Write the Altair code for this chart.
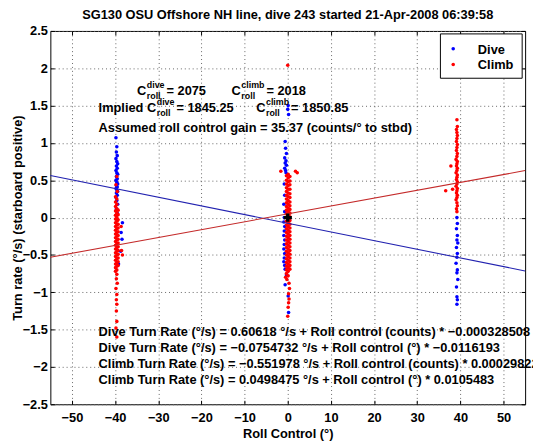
import altair as alt
import pandas as pd

FONT = "Liberation Sans"

TITLE = "SG130 OSU Offshore NH line, dive 243 started 21-Apr-2008 06:39:58"
X_TITLE = "Roll Control (°)"
Y_TITLE = "Turn rate (°/s) (starboard positive)"
X_DOMAIN = [-55, 55]
Y_DOMAIN = [-2.5, 2.5]
X_TICKS = [-50, -40, -30, -20, -10, 0, 10, 20, 30, 40, 50]
Y_TICKS = [-2.5, -2, -1.5, -1, -0.5, 0, 0.5, 1, 1.5, 2, 2.5]
PHASES = ["Dive", "Climb"]

# ---- dive observations (roll control deg, turn rate deg/s) ----
DIVE_ROLL = [
    -39.8, -39.6, -39.7, -39.5, -39.8, -39.6, -39.4, -39.7, -39.5, -39.8,
    -39.6, -39.4, -39.7, -39.5, -39.8, -39.6, -39.4, -39.7, -39.5, -39.8,
    -39.6, -39.4, -39.7, -39.5, -39.8, -39.6, -39.4, -39.7, -39.5,
    -38.3, -38.6, -38.4, -38.7, -39.2,
    0.1, 0.0, 0.2, -0.6, -0.5, -0.3, -0.7, -0.4, -0.6, -0.3, -0.7, -0.5, -0.4,
    -0.8, -0.7, -0.9, -0.7, -0.8, -0.9, -0.7, -0.8, -0.9, -0.7, -0.8, -0.9,
    -0.7, -0.8, -0.9, -0.7, -0.6, -0.3, -0.6, 0.1, 0.2,
    39.2, 39.3, 39.1, 39.3, 39.2, 39.4, 39.1, 39.3, 39.2, 39.0, 39.3, 39.2,
    39.4, 39.1, 39.2, 39.3, 39.2,
]
DIVE_RATE = [
    1.07, 0.95, 0.88, 0.83, 0.79, 0.75, 0.72, 0.69, 0.66, 0.63,
    0.60, 0.58, 0.55, 0.52, 0.50, 0.47, 0.45, 0.43, 0.41, 0.39,
    0.37, 0.35, 0.33, 0.30, 0.27, 0.23, 0.18, 0.12, 0.06,
    -0.07, -0.20, -0.29, -0.45, -0.62,
    1.50, 1.45, 1.38, 1.02, 0.93, 0.86, 0.80, 0.76, 0.73, 0.70, 0.66, 0.63, 0.60,
    0.45, 0.30, 0.18, 0.08, 0.00, -0.06, -0.12, -0.18, -0.24, -0.30, -0.36, -0.42,
    -0.48, -0.54, -0.59, -0.64, -0.69, -0.77, -0.90, -1.05, -1.27,
    0.00, -0.08, -0.15, -0.24, -0.30, -0.34, -0.40, -0.48, -0.53, -0.61, -0.70, -0.74,
    -0.83, -0.93, -1.06, -1.10, -1.16,
]

# ---- climb observations ----
CLIMB_ROLL = [
    # -40 cluster
    -39.9, -39.9, -39.9, -39.9, -39.9, -39.9, -39.9, -39.9, -39.9, -39.9,
    -39.9, -39.9, -39.9, -39.9, -39.9, -39.9, -39.9, -39.9, -39.9, -39.9,
    -39.6, -39.6, -39.6, -39.6, -39.6, -39.6, -39.6, -39.6, -39.6, -39.6,
    -39.6, -39.6, -39.6, -39.6, -39.6, -39.6, -39.6, -39.6, -39.6, -39.6,
    -39.3, -39.3, -39.3, -39.3, -39.3, -39.3, -39.3, -39.3, -39.3, -39.3,
    -39.3, -39.3, -39.3, -39.3, -39.3,
    -39.6, -39.8, -39.5, -39.7, -39.5, -39.8, -39.6, -39.7, -39.6, -39.7,
    -39.6, -39.8, -39.6, -38.5, -38.3, -38.6,
    # 0 cluster
    -0.3, -0.3, -0.3, -0.3, -0.3, -0.3, -0.3, -0.3, -0.3, -0.3, -0.3, -0.3,
    -0.3, -0.3, -0.3, -0.3, -0.3, -0.3, -0.3, -0.3, -0.3, -0.3, -0.3, -0.3,
    -0.3, -0.3, -0.3,
    0.1, 0.1, 0.1, 0.1, 0.1, 0.1, 0.1, 0.1, 0.1, 0.1, 0.1, 0.1, 0.1, 0.1,
    0.1, 0.1, 0.1, 0.1, 0.1, 0.1, 0.1, 0.1, 0.1, 0.1, 0.1, 0.1, 0.1, 0.1,
    0.5, 0.5, 0.5, 0.5, 0.5, 0.5, 0.5, 0.5, 0.5, 0.5, 0.5, 0.5, 0.5, 0.5,
    0.5, 0.5, 0.5, 0.5, 0.5, 0.5, 0.5, 0.5, 0.5, 0.5, 0.5,
    0.0, -1.6, 1.8, 2.2, -0.2, 0.3, -0.5, 0.4, 0.2, 0.3, 0.2, 0.1, 0.0,
    # +40 cluster
    39.2, 39.3, 39.1, 39.2, 39.3, 39.2, 39.1, 39.3, 39.2, 39.1, 39.3, 39.2,
    39.0, 39.3, 39.2, 39.1, 39.3, 39.2, 39.0, 39.3, 39.2, 39.1, 39.3, 39.2,
    39.0, 39.3, 39.2, 39.1, 39.3, 39.2, 39.0, 39.2, 39.3, 39.1, 39.2,
    36.6, 38.2, 37.8,
]
CLIMB_RATE = [
    0.28, 0.21, 0.15, 0.09, 0.03, -0.02, -0.07, -0.12, -0.17, -0.22,
    -0.27, -0.32, -0.37, -0.42, -0.47, -0.52, -0.57, -0.62, -0.67, -0.72,
    0.25, 0.18, 0.12, 0.06, 0.00, -0.05, -0.10, -0.15, -0.20, -0.25,
    -0.30, -0.35, -0.40, -0.45, -0.50, -0.55, -0.60, -0.65, -0.70, -0.76,
    0.10, 0.04, -0.03, -0.09, -0.14, -0.19, -0.24, -0.29, -0.34, -0.39,
    -0.44, -0.49, -0.54, -0.59, -0.64,
    0.55, 0.44, 0.35, -0.82, -0.88, -0.95, -1.03, -1.10, -1.16, -1.25,
    -1.39, -1.48, -1.60, -0.44, -0.50, -0.12,
    0.56, 0.50, 0.45, 0.40, 0.35, 0.30, 0.25, 0.20, 0.15, 0.10, 0.05, 0.00,
    -0.05, -0.10, -0.15, -0.20, -0.25, -0.30, -0.35, -0.40, -0.45, -0.50,
    -0.55, -0.60, -0.65, -0.70, -0.75,
    0.58, 0.53, 0.48, 0.43, 0.38, 0.33, 0.28, 0.23, 0.18, 0.13, 0.08, 0.03,
    -0.02, -0.07, -0.12, -0.17, -0.22, -0.27, -0.32, -0.37, -0.42, -0.47,
    -0.52, -0.57, -0.62, -0.67, -0.72, -0.78,
    0.55, 0.49, 0.44, 0.38, 0.32, 0.27, 0.21, 0.16, 0.11, 0.06, 0.01, -0.04,
    -0.09, -0.14, -0.19, -0.24, -0.29, -0.34, -0.39, -0.44, -0.49, -0.54,
    -0.59, -0.64, -0.69,
    2.04, 0.62, 0.62, 0.60, -0.83, -0.88, -0.80, -0.95, -1.02, -1.09, -1.14,
    -1.20, -1.32,
    1.31, 1.22, 1.18, 1.14, 1.10, 1.06, 1.02, 0.98, 0.94, 0.90, 0.86, 0.82,
    0.78, 0.75, 0.72, 0.69, 0.66, 0.63, 0.60, 0.57, 0.54, 0.51, 0.48, 0.45,
    0.42, 0.39, 0.36, 0.33, 0.30, 0.27, 0.24, 0.20, 0.16, 0.12, 0.08,
    0.36, 0.38, 0.69,
]

# ---- fitted lines (intercept deg/s, slope per deg) from the annotations ----
DIVE_FIT = (-0.0754732, -0.0116193)
CLIMB_FIT = (0.0498475, 0.0105483)

# reference marker at the origin
ORIGIN_ROLL = [0]
ORIGIN_RATE = [0]

TOP_NOTES = [
    ("C", "dive", " = 2075"),
    ("C", "climb", " = 2018"),
]
IMPLIED_NOTES = [
    ("Implied C", "dive", " = 1845.25"),
    ("C", "climb", " = 1850.85"),
]
GAIN_NOTE = "Assumed roll control gain = 35.37 (counts/° to stbd)"
FIT_NOTES = [
    "Dive Turn Rate (°/s) = 0.60618 °/s + Roll control (counts) * −0.000328508",
    "Dive Turn Rate (°/s) = −0.0754732 °/s + Roll control (°) * −0.0116193",
    "Climb Turn Rate (°/s) = −0.551978 °/s + Roll control (counts) * 0.000298227",
    "Climb Turn Rate (°/s) = 0.0498475 °/s + Roll control (°) * 0.0105483",
]

# ---------------- layout ----------------
W, H = 482, 379
PAD = {"left": 43, "top": 20, "right": 8, "bottom": 35}

BLUE_PT, RED_PT = "#0000ff", "#ff0000"
BLUE_LN, RED_LN = "#2222b0", "#c42a2a"

pts = pd.concat([
    pd.DataFrame({"roll": DIVE_ROLL, "rate": DIVE_RATE, "phase": "Dive"}),
    pd.DataFrame({"roll": CLIMB_ROLL, "rate": CLIMB_RATE, "phase": "Climb"}),
], ignore_index=True)


def fit_df(fit):
    a, b = fit
    return pd.DataFrame({"roll": X_DOMAIN, "rate": [a + b * x for x in X_DOMAIN]})


xs = alt.Scale(domain=X_DOMAIN, nice=False, zero=False)
ys = alt.Scale(domain=Y_DOMAIN, nice=False, zero=False)

points = alt.Chart(pts).mark_circle(size=13, opacity=1).encode(
    x=alt.X("roll:Q", scale=xs, title=X_TITLE,
            axis=alt.Axis(values=X_TICKS, format="d", grid=True, ticks=False,
                          domain=False, labelPadding=8, titlePadding=3)),
    y=alt.Y("rate:Q", scale=ys, title=Y_TITLE,
            axis=alt.Axis(values=Y_TICKS, format="~g", grid=True, ticks=False,
                          domain=False, labelPadding=3, titlePadding=-2)),
    color=alt.Color("phase:N", scale=alt.Scale(domain=PHASES, range=[BLUE_PT, RED_PT]),
                    legend=None),
)

tick_x_top = alt.Axis(orient="bottom", offset=-H, values=X_TICKS, labels=False,
                      grid=False, domain=False, tickSize=4, tickColor="black")
tick_y_right = alt.Axis(orient="left", offset=-W, values=Y_TICKS, labels=False,
                        grid=False, domain=False, tickSize=4, tickColor="black")
tick_x_bottom = alt.Axis(orient="top", offset=-H, values=X_TICKS, labels=False,
                         grid=False, domain=False, tickSize=4, tickColor="black")
tick_y_left = alt.Axis(orient="right", offset=-W, values=Y_TICKS, labels=False,
                       grid=False, domain=False, tickSize=4, tickColor="black")

dive_line = alt.Chart(fit_df(DIVE_FIT)).mark_line(color=BLUE_LN, strokeWidth=1.1).encode(
    x=alt.X("roll:Q", scale=xs, title=None, axis=tick_x_top),
    y=alt.Y("rate:Q", scale=ys, title=None, axis=tick_y_right),
)
climb_line = alt.Chart(fit_df(CLIMB_FIT)).mark_line(color=RED_LN, strokeWidth=1.1).encode(
    x=alt.X("roll:Q", scale=xs, title=None, axis=tick_x_bottom),
    y=alt.Y("rate:Q", scale=ys, title=None, axis=tick_y_left),
)

origin = alt.Chart(pd.DataFrame({"roll": ORIGIN_ROLL, "rate": ORIGIN_RATE})).mark_point(
    shape="cross", size=70, filled=True, color="black", opacity=1
).encode(
    x=alt.X("roll:Q", scale=xs, axis=None),
    y=alt.Y("rate:Q", scale=ys, axis=None),
)

ONE = pd.DataFrame({"k": [0]})


def txt(s, x, y, size=13, baseline="alphabetic"):
    return alt.Chart(ONE).mark_text(
        text=s, align="left", baseline=baseline, font=FONT, fontSize=size,
        fontWeight="bold", color="black"
    ).encode(x=alt.value(x), y=alt.value(y))


def cw(s, size):
    # rough width of bold sans text for chaining pieces
    widths = {" ": 0.278, "=": 0.584, ".": 0.278, "C": 0.722, "I": 0.278, "m": 0.889,
              "p": 0.611, "l": 0.278, "i": 0.278, "e": 0.556, "d": 0.611, "v": 0.556,
              "c": 0.556, "b": 0.611}
    return sum(widths.get(ch, 0.556) for ch in s) * size


texts = []


def note_row(items, starts, base):
    for (main, sup, rest), x0 in zip(items, starts):
        texts.append(txt(main, x0, base))
        xs_ = x0 + cw(main, 13) + 0.5
        texts.append(txt(sup, xs_, base - 7, 9))
        texts.append(txt("roll", xs_, base + 4, 9))
        texts.append(txt(rest, xs_ + max(cw(sup, 9), cw("roll", 9)) + 2, base))


note_row(TOP_NOTES, [88, 184], 65)
note_row(IMPLIED_NOTES, [49, 209], 82)
texts.append(txt(GAIN_NOTE, 49, 103))
for i, line in enumerate(FIT_NOTES):
    texts.append(txt(line, 49, 310 + 16 * i))

# legend box (top-right, inside the frame)
LEG_BOX = (396, 3, 479, 48)
legend_box = alt.Chart(ONE).mark_rect(fill="white", stroke="black", strokeWidth=1).encode(
    x=alt.value(LEG_BOX[0]), x2=alt.value(LEG_BOX[2]),
    y=alt.value(LEG_BOX[1]), y2=alt.value(LEG_BOX[3]),
)
legend_items = []
for i, (name, col) in enumerate(zip(PHASES, [BLUE_PT, RED_PT])):
    yy = 18 + 16 * i
    legend_items.append(
        alt.Chart(ONE).mark_circle(size=13, color=col, opacity=1).encode(
            x=alt.value(409), y=alt.value(yy))
    )
    legend_items.append(txt(name, 434, yy + 1, 13, "middle"))

chart = alt.layer(points, dive_line, climb_line, origin, *texts,
                  legend_box, *legend_items).resolve_axis(
    x="independent", y="independent"
).properties(
    width=W, height=H,
    autosize=alt.AutoSizeParams(type="none"),
    padding=PAD,
    title=alt.TitleParams(TITLE, font=FONT, fontSize=13, fontWeight="bold",
                          color="black", offset=3, anchor="middle"),
).configure_view(
    stroke="black", strokeWidth=1
).configure_axis(
    labelFont=FONT, labelFontSize=13, labelFontWeight="bold", labelColor="black",
    titleFont=FONT, titleFontSize=13, titleFontWeight="bold", titleColor="black",
    gridColor="#666666", gridDash=[1, 3], gridWidth=1, gridOpacity=1,
)

chart.save("out.html", embed_options={"renderer": "svg", "actions": False})
